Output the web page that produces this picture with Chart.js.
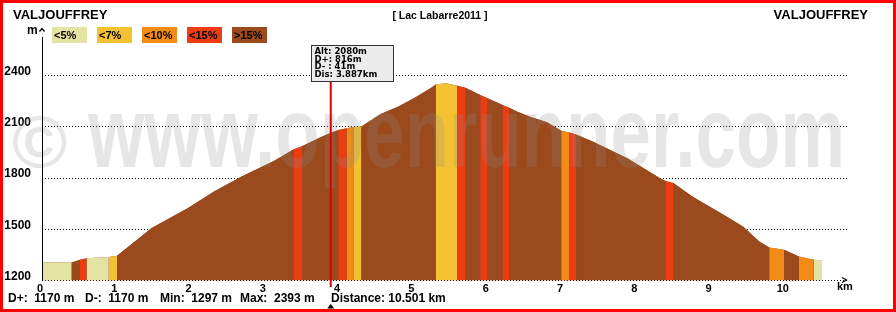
<!DOCTYPE html>
<html><head><meta charset="utf-8">
<script src="https://cdn.jsdelivr.net/npm/chart.js@4.4.0/dist/chart.umd.min.js"></script>
<style>
html,body{margin:0;padding:0;background:#fff;overflow:hidden}
canvas{display:block}
</style></head><body>
<canvas id="c" width="896" height="312"></canvas>
<script>
// ---- data ----
const distKm = [0, 0.40, 0.51, 0.60, 0.90, 1.01, 1.33, 1.47, 1.96, 2.31, 2.68, 3.12, 3.39, 3.50, 3.75, 3.89, 3.99, 4.10, 4.19, 4.30,
  4.56, 4.79, 5.00, 5.23, 5.30, 5.44, 5.59, 5.70, 5.90, 5.99, 6.20, 6.29, 6.40, 6.57, 6.80, 6.99, 7.10, 7.19, 7.42, 7.88,
  8.32, 8.40, 8.50, 8.76, 9.22, 9.44, 9.66, 9.79, 9.99, 10.19, 10.39, 10.501];
const altM = [1307, 1305, 1322, 1330, 1338, 1345, 1457, 1506, 1623, 1720, 1808, 1900, 1969, 1986, 2040, 2066, 2082, 2092, 2099, 2102,
  2175, 2218, 2267, 2326, 2348, 2356, 2342, 2330, 2287, 2270, 2228, 2213, 2189, 2160, 2128, 2078, 2068, 2055, 2013, 1916,
  1799, 1782, 1772, 1691, 1574, 1515, 1427, 1394, 1380, 1340, 1322, 1318];
// slope class of the interval starting at each point (0:<5% 1:<7% 2:<10% 3:<15% 4:>15%)
const slopeClass = [0, 4, 3, 0, 1, 4, 4, 4, 4, 4, 4, 4, 3, 4, 4, 4, 3, 2, 1, 4,
  4, 4, 4, 4, 1, 1, 3, 4, 3, 4, 3, 4, 4, 4, 4, 2, 3, 4, 4, 4,
  4, 3, 4, 4, 4, 4, 4, 2, 4, 2, 0, 0];
const classLabels = ['<5%', '<7%', '<10%', '<15%', '>15%'];
const classColors = ['#e3e3a3', '#f4c133', '#f28c17', '#ee3c12', '#9b4a1d'];
const yTicks = [1200, 1500, 1800, 2100, 2400];
const xTicks = [0, 1, 2, 3, 4, 5, 6, 7, 8, 9, 10];
const startName = 'VALJOUFFREY';
const endName = 'VALJOUFFREY';
const trackTitle = '[ Lac Labarre2011 ]';
const statTexts = ['D+:  1170 m', 'D-:  1170 m', 'Min:  1297 m', 'Max:  2393 m', 'Distance: 10.501 km'];
const cursorKm = 3.887;
const cursorLines = ['Alt: 2080m', 'D+: 816m', 'D- : 41m', 'Dis: 3.887km'];
const watermarkSign = '©';
const watermarkText = 'www.openrunner.com';

const SANS = '"Liberation Sans", Arial, sans-serif';

const overlay = {
  id: 'overlay',
  afterDatasetsDraw(chart) {
    const {ctx, scales: {x}} = chart;
    // watermark
    ctx.save();
    ctx.fillStyle = 'rgba(140,140,140,0.22)';
    ctx.textBaseline = 'alphabetic';
    ctx.textAlign = 'left';
    ctx.font = 'bold 75px ' + SANS;
    ctx.fillText(watermarkSign, 12, 167);
    ctx.font = 'bold 100px ' + SANS;
    const w = ctx.measureText(watermarkText).width;
    ctx.translate(88, 167);
    ctx.scale(757 / w, 1);
    ctx.fillText(watermarkText, 0, 0);
    ctx.restore();

    // y axis line with arrow
    ctx.save();
    ctx.strokeStyle = '#000';
    ctx.lineWidth = 1;
    ctx.beginPath();
    ctx.moveTo(42.5, 37);
    ctx.lineTo(42.5, 281);
    ctx.stroke();
    ctx.beginPath();
    ctx.moveTo(39.5, 31.5); ctx.lineTo(42, 28.5); ctx.lineTo(44.5, 31.5);
    ctx.lineWidth = 1.4;
    ctx.stroke();
    // x axis end arrow
    ctx.beginPath();
    ctx.moveTo(842, 277.5); ctx.lineTo(846.5, 280); ctx.lineTo(842, 282.5);
    ctx.lineWidth = 1.2;
    ctx.stroke();
    ctx.restore();

    // cursor line + tooltip box
    const cx = x.getPixelForValue(cursorKm);
    ctx.save();
    ctx.strokeStyle = '#e00000';
    ctx.lineWidth = 2;
    ctx.beginPath();
    ctx.moveTo(cx, 81);
    ctx.lineTo(cx, 287);
    ctx.stroke();
    const bx = Math.round(cx) - 20 + 0.5, by = 45.5;
    ctx.fillStyle = '#ececec';
    ctx.fillRect(bx, by, 82, 36);
    ctx.strokeStyle = '#333';
    ctx.lineWidth = 1;
    ctx.strokeRect(bx, by, 82, 36);
    ctx.fillStyle = '#000';
    ctx.font = 'bold 8.5px "DejaVu Sans", Verdana, sans-serif';
    ctx.textBaseline = 'alphabetic';
    cursorLines.forEach((t, i) => ctx.fillText(t, bx + 3, 54 + i * 7.7));
    // marker under the axis
    ctx.beginPath();
    ctx.moveTo(cx - 3.5, 308.5); ctx.lineTo(cx + 3.5, 308.5); ctx.lineTo(cx, 304);
    ctx.closePath();
    ctx.fill();
    ctx.restore();
  },
  afterDraw(chart) {
    const {ctx} = chart;
    ctx.save();
    ctx.fillStyle = '#000';
    ctx.textBaseline = 'alphabetic';
    ctx.font = 'bold 13px ' + SANS;
    ctx.textAlign = 'left';
    ctx.fillText(startName, 13, 19);
    ctx.textAlign = 'right';
    ctx.fillText(endName, 868, 19);
    ctx.textAlign = 'center';
    ctx.font = 'bold 10.5px ' + SANS;
    ctx.fillText(trackTitle, 440, 19);
    ctx.textAlign = 'left';
    ctx.font = 'bold 12px ' + SANS;
    ctx.fillText('m', 27, 34);
    // legend
    ctx.font = 'bold 11px ' + SANS;
    classLabels.forEach((lab, i) => {
      const lx = 52 + 45 * i;
      ctx.fillStyle = classColors[i];
      ctx.fillRect(lx, 27, 35, 16);
      ctx.fillStyle = '#000';
      ctx.fillText(lab, lx + 2, 39);
    });
    // axis unit
    ctx.fillText('km', 837, 290);
    // stats
    ctx.font = 'bold 12px ' + SANS;
    const sx = [8, 85, 160, 240, 331];
    statTexts.forEach((t, i) => ctx.fillText(t, sx[i], 302));
    // red frame
    ctx.strokeStyle = '#ff0000';
    ctx.lineWidth = 3;
    ctx.strokeRect(1.5, 1.5, 893, 309);
    ctx.restore();
  }
};

const points = distKm.map((d, i) => ({x: d, y: altM[i]}));

new Chart(document.getElementById('c'), {
  type: 'line',
  data: {
    datasets: [{
      data: points,
      order: 1,
      fill: 'start',
      borderWidth: 0,
      borderColor: 'rgba(0,0,0,0)',
      pointRadius: 0,
      tension: 0,
      backgroundColor: classColors[4],
      segment: {
        backgroundColor: c => classColors[slopeClass[c.p0DataIndex]]
      }
    }, {
      data: points,
      order: 2,
      fill: 'start',
      borderWidth: 0,
      borderColor: 'rgba(0,0,0,0)',
      pointRadius: 0,
      tension: 0,
      backgroundColor: classColors[4]
    }]
  },
  options: {
    responsive: false,
    animation: false,
    devicePixelRatio: 1,
    layout: {padding: {top: 41.6, right: 48, bottom: 0, left: 0}},
    plugins: {legend: {display: false}, tooltip: {enabled: false}},
    scales: {
      x: {
        type: 'linear', min: 0, max: 10.85,
        afterBuildTicks: s => { s.ticks = xTicks.map(v => ({value: v})); },
        afterFit: s => { s.height = 31.5; },
        grid: {display: false, drawTicks: false},
        border: {display: false},
        ticks: {padding: 2, labelOffset: -2, color: '#000', autoSkip: false, maxRotation: 0,
          callback: v => String(v),
          font: {family: SANS, weight: 'bold', size: 11}}
      },
      y: {
        type: 'linear', min: 1200, max: 2600,
        afterBuildTicks: s => { s.ticks = yTicks.map(v => ({value: v})); },
        afterFit: s => { s.width = 42; },
        grid: {color: '#000', lineWidth: 1, drawTicks: false},
        border: {display: false, dash: [1, 2]},
        ticks: {padding: 11, labelOffset: -4, color: '#000',
          callback: v => String(v),
          font: {family: SANS, weight: 'bold', size: 12}}
      }
    }
  },
  plugins: [overlay]
});
</script>
</body></html>
